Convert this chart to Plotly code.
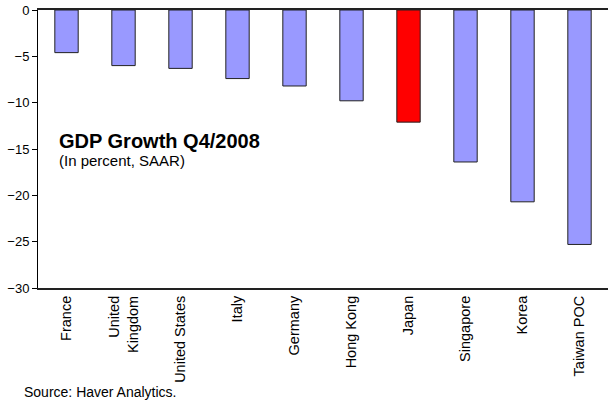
import plotly.graph_objects as go

countries = ["France", "United<br>Kingdom", "United States", "Italy", "Germany",
             "Hong Kong", "Japan", "Singapore", "Korea", "Taiwan POC"]
growth = [-4.6, -6.0, -6.3, -7.4, -8.2, -9.8, -12.1, -16.4, -20.7, -25.3]
colors = ["#9999FF"] * 6 + ["#FF0000"] + ["#9999FF"] * 3
y_ticks = [0, -5, -10, -15, -20, -25, -30]

fig = go.Figure(go.Bar(
    x=countries, y=growth,
    marker=dict(color=colors, line=dict(color="#222222", width=1)),
    width=0.41,
))

font = "Liberation Sans, Arial, sans-serif"
fig.update_layout(
    width=608, height=406,
    margin=dict(l=38, r=0, t=10, b=118, autoexpand=False),
    paper_bgcolor="white", plot_bgcolor="white",
    showlegend=False,
    font=dict(family=font, size=13, color="black"),
)
fig.update_xaxes(
    showline=True, linecolor="#222222", linewidth=2, mirror=True,
    showgrid=False, ticks="", tickangle=-90, range=[-0.5, 9.5],
    tickfont=dict(size=14.5, family=font), automargin=False,
)
fig.update_yaxes(
    range=[-30, 0], tickvals=y_ticks, showgrid=False, zeroline=False,
    showline=True, linecolor="black", linewidth=1,
    ticks="outside", ticklen=5, tickcolor="black",
    tickfont=dict(size=13, family=font), automargin=False,
)
fig.add_annotation(
    xref="paper", yref="paper", x=0.033, y=0.529, xanchor="left", yanchor="middle",
    text="<b>GDP Growth Q4/2008</b>", showarrow=False,
    font=dict(size=20, family=font, color="black"),
)
fig.add_annotation(
    xref="paper", yref="paper", x=0.033, y=0.457, xanchor="left", yanchor="middle",
    text="(In percent, SAAR)", showarrow=False,
    font=dict(size=15, family=font, color="black"),
)
fig.add_annotation(
    xref="paper", yref="paper", x=-0.028, y=-0.374, xanchor="left", yanchor="middle",
    text="Source: Haver Analytics.", showarrow=False,
    font=dict(size=14, family=font, color="black"),
)
fig.write_html("out.html", config={"displayModeBar": False},
               post_script="document.body.style.margin='0';")
